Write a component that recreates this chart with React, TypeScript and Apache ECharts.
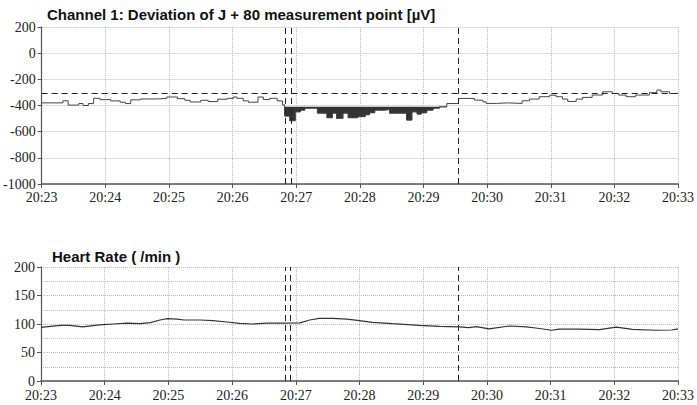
import React, { useEffect, useRef } from "react";
import * as echarts from "echarts";

// x positions are seconds after 20:23:00
const minuteTicks = ["20:23", "20:24", "20:25", "20:26", "20:27", "20:28", "20:29", "20:30", "20:31", "20:32", "20:33"];

const stTimes = [
  0, 20, 25, 35, 39, 44, 49, 55, 65, 74, 79, 84, 93, 109, 118, 128, 135, 140, 150, 157,
  166, 175, 181, 184, 190, 195, 204, 209, 215, 222, 227, 229, 234, 239, 244, 248, 260, 269, 274, 278,
  284, 289, 298, 305, 309, 314, 323, 328, 344, 349, 354, 358, 363, 369, 375, 382, 393, 403, 408, 416,
  419, 429, 439, 453, 460, 469, 479, 485, 491, 496, 504, 510, 519, 529, 538, 544, 551, 560, 573, 580,
  584, 592, 600,
];
const stValues = [
  -380, -364, -397, -385, -400, -385, -345, -355, -365, -375, -385, -357, -350, -345, -335, -348, -360, -373, -360, -370,
  -352, -345, -335, -345, -365, -375, -335, -355, -345, -365, -395, -480, -516, -448, -435, -420, -458, -493, -458, -497,
  -458, -493, -485, -470, -455, -435, -430, -458, -511, -448, -465, -455, -435, -420, -410, -385, -346, -346, -359, -372,
  -384, -380, -384, -364, -351, -333, -321, -333, -351, -369, -351, -338, -320, -295, -308, -320, -333, -320, -302, -282,
  -295, -308, -308,
];

const hrTimes = [
  0, 18, 27, 39, 55, 68, 81, 93, 103, 112, 119, 128, 135, 150, 162, 175, 187, 199, 213, 228,
  244, 253, 262, 275, 288, 300, 312, 331, 356, 375, 394, 403, 410, 422, 441, 457, 466, 481, 488, 507,
  526, 542, 557, 579, 594, 600,
];
const hrValues = [
  94, 97.5, 97.5, 95, 98.5, 100, 101.5, 100.5, 102.5, 107, 109.5, 108.5, 107, 107, 106, 103.5, 101, 100, 101.5, 101.5,
  102, 107, 110, 110, 108.5, 106, 103, 100.5, 97.5, 96, 95, 93.5, 95.5, 91.5, 96.5, 95, 93, 89, 91, 91,
  90, 94.5, 90.5, 89, 89.5, 91.5,
];

const eventTimes = [230, 235, 393];
const stReference = -310;
const stAlarm = -410;
const stFillRange = [229, 382];

export default function App() {
  const ref = useRef<HTMLDivElement>(null);
  useEffect(() => {
    document.body.style.margin = "0";
    const chart = echarts.init(ref.current!, null, { renderer: "svg" });
    const labelFont = {
      fontFamily: "'Liberation Serif', 'Times New Roman', serif",
      fontSize: 14,
      lineHeight: 12,
      color: "#222",
    };
    const xAxisBase = (gridIndex: number, margin: number) => ({
      type: "value" as const,
      gridIndex,
      min: 0,
      max: 600,
      interval: 60,
      axisLine: { show: true, onZero: false, lineStyle: { color: "#555", width: 1.5 } },
      axisTick: { show: true, length: 4, lineStyle: { color: "#555" } },
      axisLabel: { ...labelFont, margin, formatter: (v: number) => minuteTicks[Math.round(v / 60)] },
      splitLine: { show: true, lineStyle: { color: "#bbb", type: "dotted" } },
    });
    const eventLines = eventTimes.map((t) => ({ xAxis: t }));
    const dashStyle = { color: "#222", width: 1, type: [6, 4] as any };
    const stData = stTimes.map((t, i) => [t, stValues[i]]);
    const fillData = stTimes
      .map((t, i) => [t, Math.min(stValues[i], stAlarm)])
      .filter((p) => p[0] >= stFillRange[0] && p[0] <= stFillRange[1]);
    const hrData = hrTimes.map((t, i) => [t, hrValues[i]]);

    chart.setOption({
      animation: false,
      title: [
        {
          text: "Channel 1: Deviation of J + 80 measurement point [µV]",
          left: 42,
          top: 2,
          textStyle: { fontFamily: "Liberation Sans", fontWeight: "bold", fontSize: 15, color: "#111" },
        },
        {
          text: "Heart Rate ( /min )",
          left: 47,
          top: 244,
          textStyle: { fontFamily: "Liberation Sans", fontWeight: "bold", fontSize: 15, color: "#111" },
        },
      ],
      grid: [
        { left: 41, right: 18, top: 27, height: 157 },
        { left: 41, right: 18, top: 267, height: 114 },
      ],
      xAxis: [xAxisBase(0, 7), xAxisBase(1, 8)],
      yAxis: [
        {
          type: "value",
          gridIndex: 0,
          min: -1000,
          max: 200,
          interval: 200,
          axisLine: { show: true, onZero: false, lineStyle: { color: "#555", width: 1.2 } },
          axisTick: { show: true, length: 4, lineStyle: { color: "#555" } },
          axisLabel: { ...labelFont, margin: 6, formatter: (v: number) => String(v) },
          splitLine: { show: true, lineStyle: { color: "#bbb", type: "dotted" } },
        },
        {
          type: "value",
          gridIndex: 1,
          min: 0,
          max: 200,
          interval: 50,
          axisLine: { show: true, onZero: false, lineStyle: { color: "#555", width: 1.2 } },
          axisTick: { show: true, length: 4, lineStyle: { color: "#555" } },
          axisLabel: { ...labelFont, margin: 6, formatter: (v: number) => String(v) },
          splitLine: { show: true, lineStyle: { color: "#bbb", type: "dotted" } },
          minorTick: { show: false, splitNumber: 2 },
          minorSplitLine: { show: true, lineStyle: { color: "#bbb", type: "dotted" } },
        },
      ],
      series: [
        {
          type: "line",
          xAxisIndex: 0,
          yAxisIndex: 0,
          data: fillData,
          step: "end",
          symbol: "none",
          lineStyle: { color: "#222", width: 0.8 },
          areaStyle: { color: "#333", opacity: 1, origin: stAlarm },
          silent: true,
          z: 2,
        },
        {
          type: "line",
          xAxisIndex: 0,
          yAxisIndex: 0,
          data: stData,
          step: "end",
          symbol: "none",
          lineStyle: { color: "#444", width: 1 },
          silent: true,
          z: 3,
          markLine: {
            silent: true,
            symbol: ["none", "none"],
            label: { show: false },
            lineStyle: dashStyle,
            data: [{ yAxis: stReference }, ...eventLines],
          },
        },
        {
          type: "line",
          xAxisIndex: 1,
          yAxisIndex: 1,
          data: hrData,
          symbol: "none",
          lineStyle: { color: "#333", width: 1.2 },
          silent: true,
          z: 3,
          markLine: {
            silent: true,
            symbol: ["none", "none"],
            label: { show: false },
            lineStyle: dashStyle,
            data: eventLines,
          },
        },
      ],
    });
    return () => chart.dispose();
  }, []);
  return <div ref={ref} style={{ width: 697, height: 405 }} />;
}
